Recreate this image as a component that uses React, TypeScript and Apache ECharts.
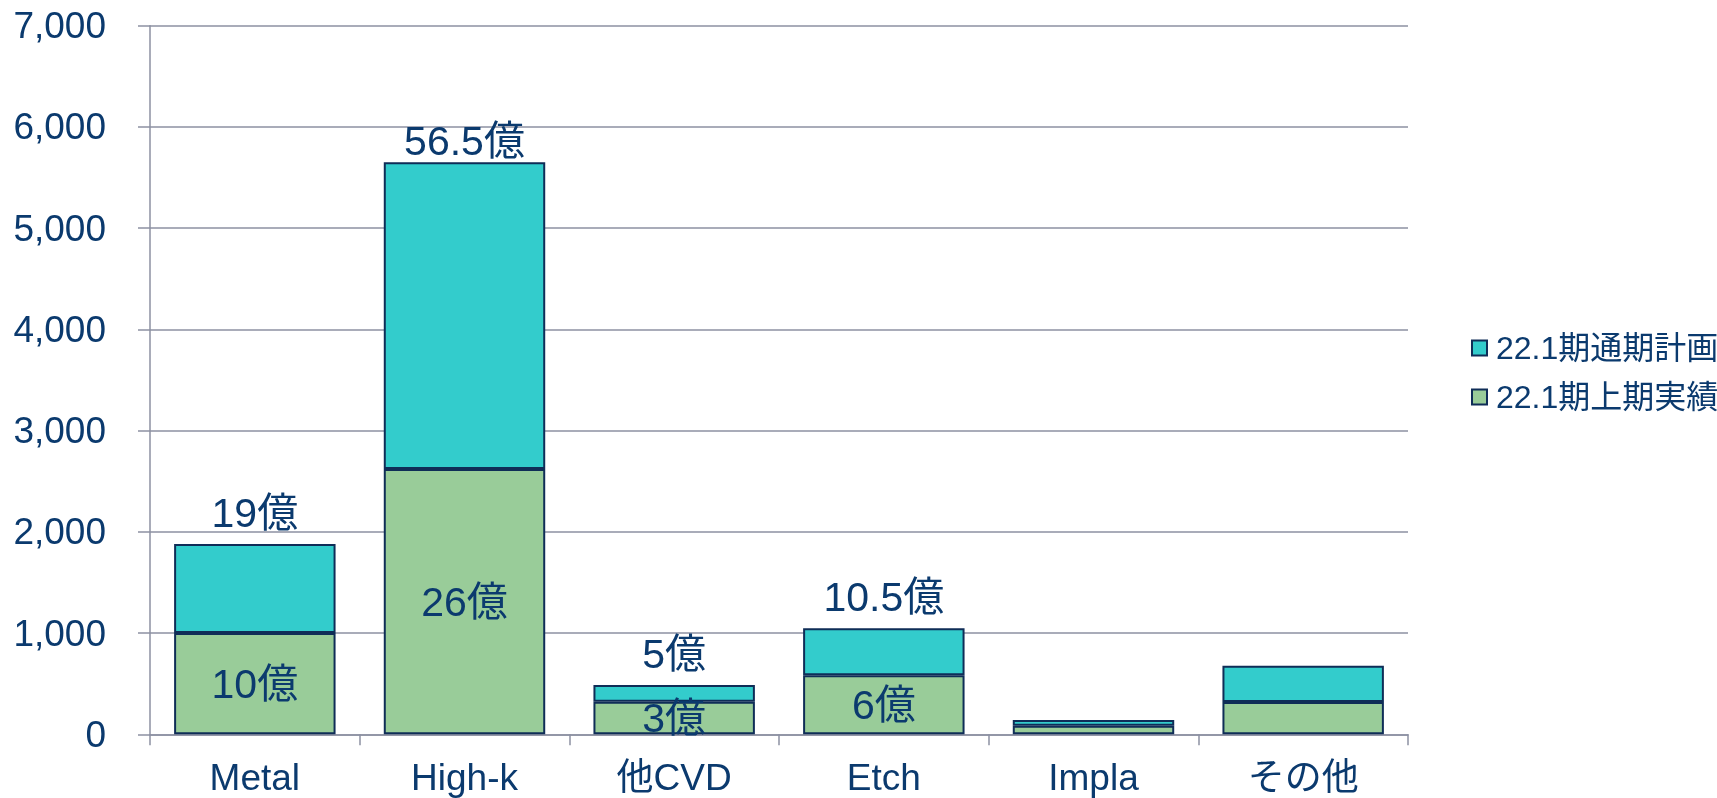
import React, { useEffect, useRef } from "react";
import * as echarts from "echarts";

const categories = ["Metal", "High-k", "他CVD", "Etch", "Impla", "その他"];
const seriesNames = ["22.1期通期計画", "22.1期上期実績"];
// full-year plan (total bar height)
const planTotal = [1880, 5650, 487, 1047, 141, 678];
// first-half actual (bottom segment)
const actual = [1000, 2620, 322, 583, 85, 319];
const planLabels = ["19億", "56.5億", "5億", "10.5億", "", ""];
const actualLabels = ["10億", "26億", "3億", "6億", "", ""];
const yTicks = { min: 0, max: 7000, interval: 1000 };

const FONT = "'Liberation Sans', Arial, 'Noto Sans CJK JP', sans-serif";
const TEXT = "#0b3a6e";
const GRID = "#8c90a2";
const BORDER = "#0f2d57";

export default function App() {
  const ref = useRef<HTMLDivElement>(null);
  useEffect(() => {
    if (!ref.current) return;
    const chart = echarts.init(ref.current, null, { renderer: "svg" });
    const planRemainder = planTotal.map((p, i) => p - actual[i]);
    chart.setOption({
      animation: false,
      textStyle: { fontFamily: FONT, color: TEXT },
      grid: { left: 150, right: 309, top: 25.7, bottom: 63.7, containLabel: false },
      legend: {
        orient: "vertical",
        left: 1466,
        top: 327,
        itemWidth: 15,
        itemHeight: 15,
        itemGap: 17,
        icon: "rect",
        data: [seriesNames[0], seriesNames[1]],
        textStyle: { fontFamily: FONT, color: TEXT, fontSize: 32, lineHeight: 30, padding: [0, 0, 0, 4] },
      },
      xAxis: {
        type: "category",
        data: categories,
        axisLine: { show: true, lineStyle: { color: GRID, width: 1.5 } },
        axisTick: { show: true, length: 11, alignWithLabel: false, lineStyle: { color: GRID, width: 1.5 } },
        axisLabel: { fontFamily: FONT, color: TEXT, fontSize: 37, lineHeight: 36, margin: 25, interval: 0 },
      },
      yAxis: {
        type: "value",
        min: yTicks.min,
        max: yTicks.max,
        interval: yTicks.interval,
        axisLine: { show: true, lineStyle: { color: GRID, width: 1.5 } },
        axisTick: { show: true, length: 12, lineStyle: { color: GRID, width: 1.5 } },
        splitLine: { show: true, lineStyle: { color: GRID, width: 1.5 } },
        axisLabel: {
          fontFamily: FONT,
          color: TEXT,
          fontSize: 37,
          margin: 44,
          formatter: (v: number) => v.toLocaleString("en-US"),
        },
      },
      series: [
        {
          name: seriesNames[1],
          type: "bar",
          stack: "total",
          barWidth: "77%",
          data: actual,
          itemStyle: { color: "#99cc99", borderColor: BORDER, borderWidth: 2 },
          label: {
            show: true,
            position: "inside",
            fontFamily: FONT,
            fontSize: 41,
            color: TEXT,
            formatter: (p: any) => actualLabels[p.dataIndex],
          },
        },
        {
          name: seriesNames[0],
          type: "bar",
          stack: "total",
          barWidth: "77%",
          data: planRemainder.map((v, i) =>
            i === 1 ? { value: v, label: { distance: 1 } } : v
          ),
          itemStyle: { color: "#33cccc", borderColor: BORDER, borderWidth: 2 },
          label: {
            show: true,
            position: "top",
            distance: 11,
            fontFamily: FONT,
            fontSize: 41,
            color: TEXT,
            formatter: (p: any) => planLabels[p.dataIndex],
          },
        },
      ],
    });
    return () => chart.dispose();
  }, []);
  return (
    <div
      ref={ref}
      style={{ position: "fixed", left: 0, top: 0, width: 1717, height: 798 }}
    />
  );
}
